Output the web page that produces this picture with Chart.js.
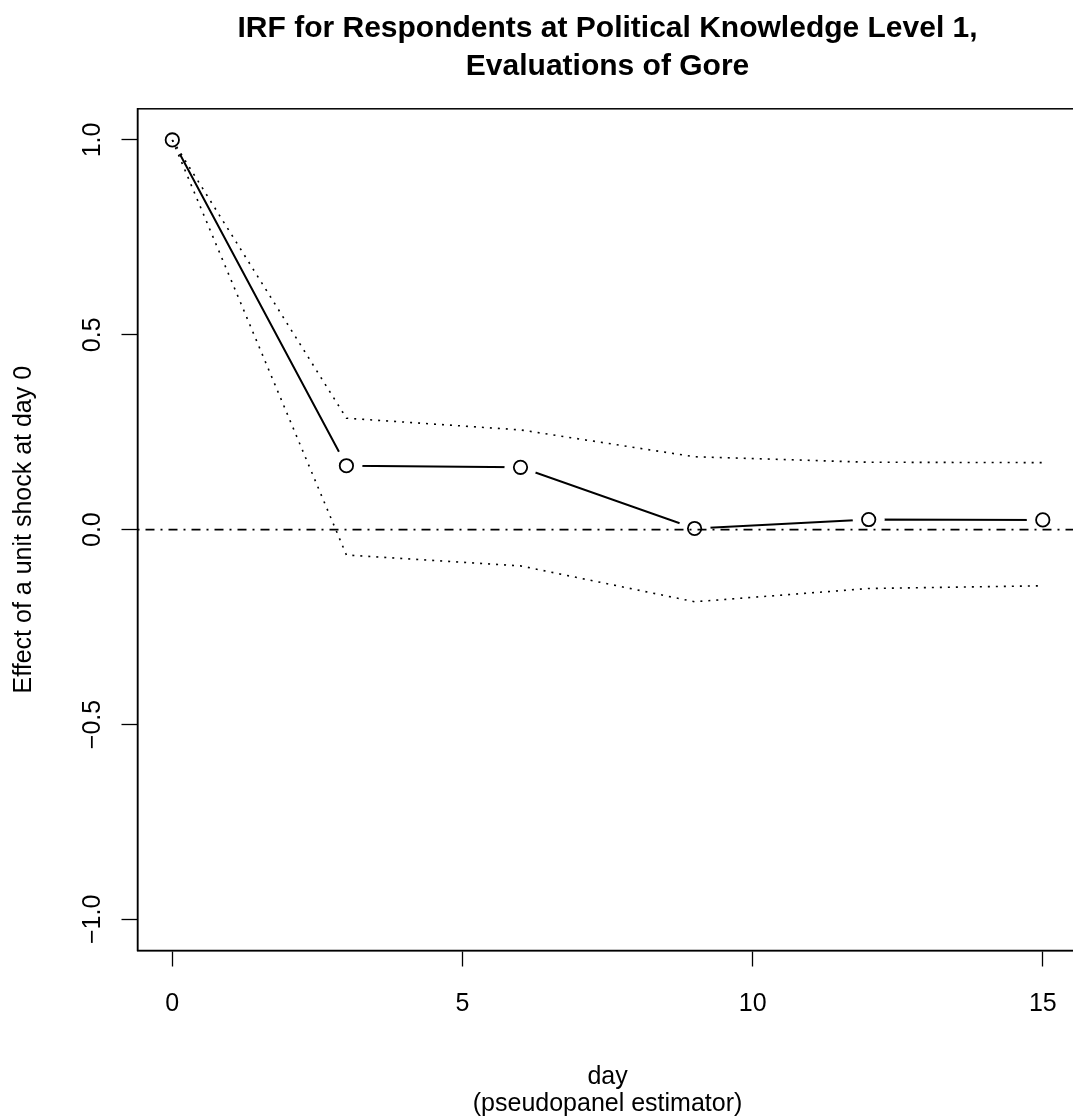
<!DOCTYPE html>
<html>
<head>
<meta charset="utf-8">
<title>IRF, Evaluations of Gore</title>
<script src="https://cdn.jsdelivr.net/npm/chart.js@4.4.1/dist/chart.umd.min.js"></script>
<style>
html, body { margin: 0; padding: 0; background: #fff; overflow: hidden; }
canvas { display: block; }
</style>
</head>
<body>
<canvas id="irf" width="1080" height="1118"></canvas>
<script>
// days after the shock
var days = [0, 3, 6, 9, 12, 15];
// impulse response estimate
var irf = [1.0, 0.164, 0.160, 0.003, 0.026, 0.025];
// confidence band (dotted)
var upper = [1.0, 0.286, 0.256, 0.187, 0.173, 0.172];
var lower = [1.0, -0.065, -0.093, -0.185, -0.151, -0.144];
// axes
var xTicks = [0, 5, 10, 15];
var yTicks = [-1, -0.5, 0, 0.5, 1];
var yTickLabels = ['\u22121.0', '\u22120.5', '0.0', '0.5', '1.0'];
var xRange = [-0.6, 15.6];
var yRange = [-1.08, 1.08];

var font = 'Liberation Sans, Arial, Helvetica, sans-serif';

function pts(ys) {
	return days.map(function(d, i) { return {x: d, y: ys[i]}; });
}

// box round the plot and the rotated y tick labels
var frame = {
	id: 'frame',
	afterDraw: function(chart) {
		var ctx = chart.ctx;
		var a = chart.chartArea;
		var ys = chart.scales.y;
		ctx.save();
		ctx.strokeStyle = '#000';
		ctx.lineWidth = 1.5;
		ctx.strokeRect(a.left, a.top, a.right - a.left, a.bottom - a.top);
		ctx.fillStyle = '#000';
		ctx.font = '25px ' + font;
		ctx.textAlign = 'center';
		ctx.textBaseline = 'middle';
		yTicks.forEach(function(v, i) {
			ctx.save();
			ctx.translate(a.left - 44, ys.getPixelForValue(v));
			ctx.rotate(-Math.PI / 2);
			ctx.fillText(yTickLabels[i], 0, 0);
			ctx.restore();
		});
		ctx.restore();
	}
};

new Chart(document.getElementById('irf'), {
	type: 'scatter',
	data: {
		datasets: [{
			label: 'irf',
			data: pts(irf),
			showLine: true,
			borderColor: '#000',
			borderWidth: 2,
			pointRadius: 0,
			order: 5
		}, {
			// white discs that open the gaps round each point (type "b")
			label: 'gap',
			data: pts(irf),
			showLine: false,
			pointRadius: 16,
			pointBorderWidth: 0,
			pointBackgroundColor: '#fff',
			pointBorderColor: '#fff',
			order: 4
		}, {
			label: 'upper',
			data: pts(upper),
			showLine: true,
			borderColor: '#000',
			borderWidth: 1.6,
			borderDash: [2, 6],
			pointRadius: 0,
			order: 3
		}, {
			label: 'lower',
			data: pts(lower),
			showLine: true,
			borderColor: '#000',
			borderWidth: 1.6,
			borderDash: [2, 6],
			pointRadius: 0,
			order: 3
		}, {
			label: 'zero',
			data: [{x: xRange[0], y: 0}, {x: xRange[1], y: 0}],
			showLine: true,
			borderColor: '#000',
			borderWidth: 1.6,
			borderDash: [2, 6, 9, 6],
			pointRadius: 0,
			order: 2
		}, {
			label: 'points',
			data: pts(irf),
			showLine: false,
			pointRadius: 6.7,
			pointBorderWidth: 1.8,
			pointBorderColor: '#000',
			pointBackgroundColor: 'rgba(0,0,0,0)',
			order: 1
		}]
	},
	options: {
		responsive: false,
		animation: false,
		events: [],
		layout: { autoPadding: false, padding: { right: 2.4 } },
		plugins: {
			legend: { display: false },
			tooltip: { enabled: false },
			title: {
				display: true,
				fullSize: false,
				text: ['IRF for Respondents at Political Knowledge Level 1,', 'Evaluations of Gore'],
				color: '#000',
				font: { family: font, size: 30, weight: 'bold', lineHeight: 1.25 },
				padding: { top: 10, bottom: 23.8 }
			}
		},
		scales: {
			x: {
				type: 'linear',
				min: xRange[0],
				max: xRange[1],
				afterBuildTicks: function(s) { s.ticks = xTicks.map(function(v) { return {value: v}; }); },
				afterFit: function(s) { s.height = 167.5; s.paddingLeft = 0; s.paddingRight = 0; },
				grid: { display: true, drawOnChartArea: false, drawTicks: true, tickLength: 16, tickColor: '#000', tickWidth: 1.3 },
				border: { display: true, color: '#000', width: 1.5 },
				ticks: {
					color: '#000',
					font: { family: font, size: 25 },
					padding: 23,
					maxRotation: 0,
					autoSkip: false,
					callback: function(v) { return String(v); }
				},
				title: {
					display: true,
					text: ['day', '(pseudopanel estimator)'],
					color: '#000',
					font: { family: font, size: 25, lineHeight: 1.08 },
					padding: { top: 0, bottom: 0.5 }
				}
			},
			y: {
				type: 'linear',
				min: yRange[0],
				max: yRange[1],
				afterBuildTicks: function(s) { s.ticks = yTicks.map(function(v) { return {value: v}; }); },
				afterFit: function(s) { s.width = 137.5; s.paddingTop = 0; s.paddingBottom = 0; },
				grid: { display: true, drawOnChartArea: false, drawTicks: true, tickLength: 16, tickColor: '#000', tickWidth: 1.3 },
				border: { display: true, color: '#000', width: 1.5 },
				ticks: { display: false },
				title: {
					display: true,
					text: 'Effect of a unit shock at day 0',
					color: '#000',
					font: { family: font, size: 25, lineHeight: 1.2 },
					padding: { top: 9, bottom: 0 }
				}
			}
		}
	},
	plugins: [frame]
});
</script>
</body>
</html>
